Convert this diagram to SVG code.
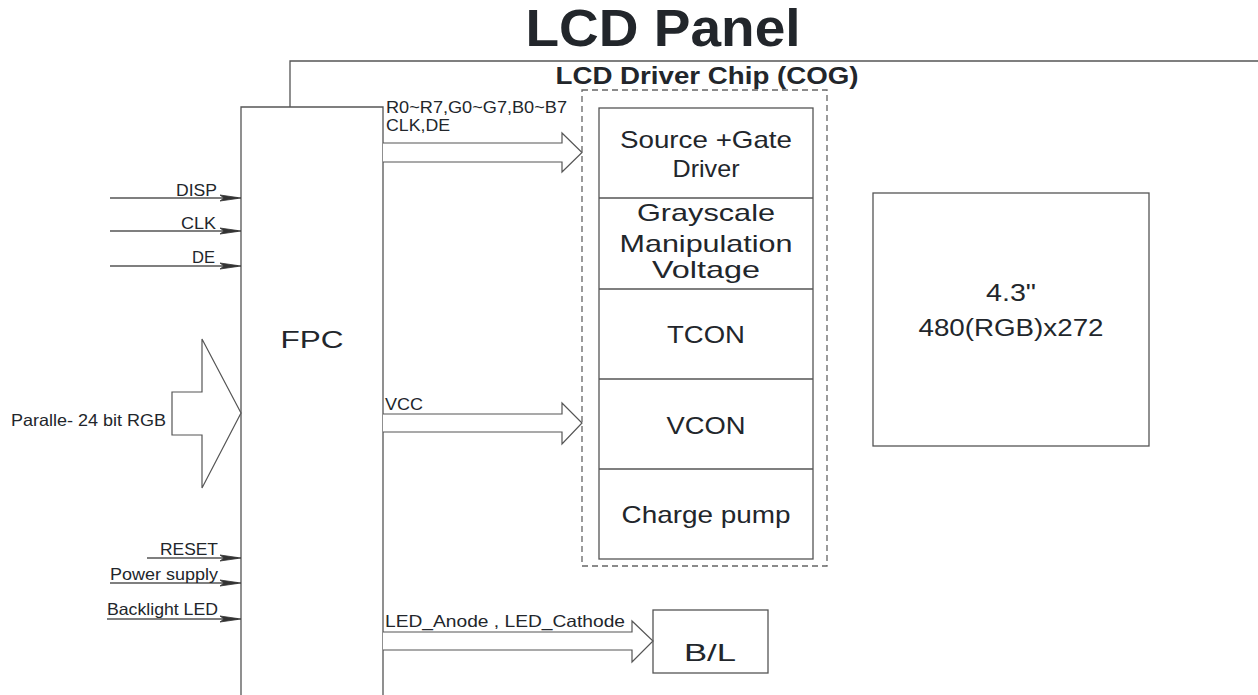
<svg xmlns="http://www.w3.org/2000/svg" width="1258" height="695" viewBox="0 0 1258 695">
<style>
text{font-family:"Liberation Sans",Arial,sans-serif;fill:#22262b}
.ln{fill:none;stroke:#555;stroke-width:1.3}
.box{fill:#fff;stroke:#555;stroke-width:1.3}
.dash{fill:none;stroke:#666;stroke-width:1.3;stroke-dasharray:6,4}
.blk{fill:#fff;stroke:#555;stroke-width:1.2}
.ah{fill:#333;stroke:#333;stroke-width:0.8}
.s{font-size:16.5px}
.m{font-size:24px}
</style>
<rect width="1258" height="695" fill="#fff"/>
<g id="title"><text x="663" y="46" font-size="51" font-weight="bold" text-anchor="middle" textLength="275" lengthAdjust="spacingAndGlyphs">LCD Panel</text></g>
<g id="panel"><path class="ln" d="M290,107 V61 H1258"/></g>
<g id="cog">
<rect class="dash" x="582" y="90" width="245" height="476"/>
<text x="707" y="84" font-size="24" font-weight="bold" text-anchor="middle" textLength="303" lengthAdjust="spacingAndGlyphs">LCD Driver Chip (COG)</text>
</g>
<g id="chip">
<rect class="box" x="599" y="108" width="214" height="451"/>
<path class="ln" d="M599,198 H813 M599,289 H813 M599,379 H813 M599,469 H813"/>
</g>
<g id="source-gate"><text class="m" x="706" y="148" text-anchor="middle" textLength="172" lengthAdjust="spacingAndGlyphs">Source +Gate</text><text class="m" x="706" y="177" text-anchor="middle" textLength="67" lengthAdjust="spacingAndGlyphs">Driver</text></g>
<g id="grayscale"><text class="m" x="706" y="221" text-anchor="middle" textLength="138" lengthAdjust="spacingAndGlyphs">Grayscale</text><text class="m" x="706" y="252" text-anchor="middle" textLength="173" lengthAdjust="spacingAndGlyphs">Manipulation</text><text class="m" x="706" y="278" text-anchor="middle" textLength="108" lengthAdjust="spacingAndGlyphs">Voltage</text></g>
<g id="tcon"><text class="m" x="706" y="343" text-anchor="middle" textLength="78" lengthAdjust="spacingAndGlyphs">TCON</text></g>
<g id="vcon"><text class="m" x="706" y="434" text-anchor="middle" textLength="79" lengthAdjust="spacingAndGlyphs">VCON</text></g>
<g id="charge-pump"><text class="m" x="706" y="523" text-anchor="middle" textLength="169" lengthAdjust="spacingAndGlyphs">Charge pump</text></g>
<g id="display"><rect class="box" x="873" y="193" width="276" height="253"/><text x="1011" y="301" font-size="23" text-anchor="middle" textLength="50" lengthAdjust="spacingAndGlyphs">4.3"</text><text x="1011" y="336" font-size="23" text-anchor="middle" textLength="185" lengthAdjust="spacingAndGlyphs">480(RGB)x272</text></g>
<g id="bl"><rect class="box" x="653" y="610" width="115" height="63"/><text x="710" y="661" font-size="24" text-anchor="middle" textLength="52" lengthAdjust="spacingAndGlyphs">B/L</text></g>
<g id="fpc"><path class="box" d="M241,696 V107 H383 V696"/><text x="312" y="348" font-size="24" text-anchor="middle" textLength="63" lengthAdjust="spacingAndGlyphs">FPC</text></g>
<g id="connectors">
<path class="ln" d="M110,198 H238 M110,231 H238 M110,266 H238 M147,558 H238 M110,583 H238 M107,619 H238"/>
<polygon class="ah" points="220,195 241,198 220,201 224,198"/>
<polygon class="ah" points="220,228 241,231 220,234 224,231"/>
<polygon class="ah" points="220,263 241,266 220,269 224,266"/>
<polygon class="ah" points="220,555 241,558 220,561 224,558"/>
<polygon class="ah" points="220,580 241,583 220,586 224,583"/>
<polygon class="ah" points="220,616 241,619 220,622 224,619"/>
<polygon class="blk" points="172,392 202,392 202,339 241,413 202,488 202,435 172,435"/>
<path class="blk" d="M383,143 H562 V133 L582,152.5 L562,172 V162 H383"/>
<path class="blk" d="M383,414 H562 V403 L582,423 L562,444 V432 H383"/>
<path class="blk" d="M383,632 H632 V621 L653,641 L632,662 V650 H383"/>
</g>
<g id="labels">
<text class="s" x="217" y="196" text-anchor="end" textLength="41" lengthAdjust="spacingAndGlyphs">DISP</text>
<text class="s" x="216" y="229" text-anchor="end" textLength="35" lengthAdjust="spacingAndGlyphs">CLK</text>
<text class="s" x="215" y="263" text-anchor="end" textLength="23" lengthAdjust="spacingAndGlyphs">DE</text>
<text class="s" x="218" y="555" text-anchor="end" textLength="58" lengthAdjust="spacingAndGlyphs">RESET</text>
<text class="s" x="218" y="580" text-anchor="end" textLength="108" lengthAdjust="spacingAndGlyphs">Power supply</text>
<text class="s" x="218" y="615" text-anchor="end" textLength="111" lengthAdjust="spacingAndGlyphs">Backlight LED</text>
<text class="s" x="11" y="426" textLength="155" lengthAdjust="spacingAndGlyphs">Paralle- 24 bit RGB</text>
<text class="s" x="386" y="113" textLength="181" lengthAdjust="spacingAndGlyphs">R0~R7,G0~G7,B0~B7</text>
<text class="s" x="386" y="131" textLength="64" lengthAdjust="spacingAndGlyphs">CLK,DE</text>
<text class="s" x="385" y="410" textLength="38" lengthAdjust="spacingAndGlyphs">VCC</text>
<text class="s" x="385" y="627" textLength="240" lengthAdjust="spacingAndGlyphs">LED_Anode , LED_Cathode</text>
</g>
</svg>
